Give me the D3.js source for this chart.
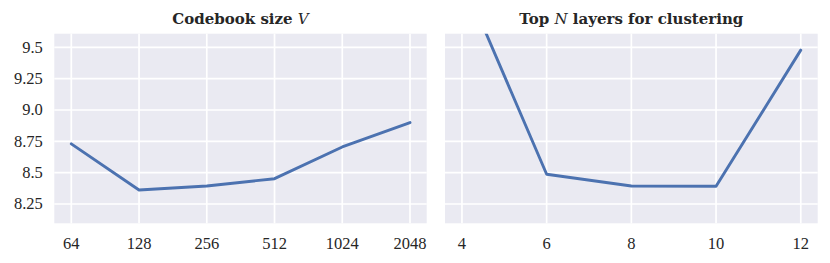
<!DOCTYPE html>
<html><head><meta charset="utf-8">
<script src="https://cdn.jsdelivr.net/npm/d3@7"></script>
<style>body{margin:0;background:#fff}</style>
</head><body>
<svg id="c" width="830" height="263"></svg>
<script>
// Data
const codebookSizes = ["64","128","256","512","1024","2048"];
const codebookValues = [8.73, 8.362, 8.394, 8.452, 8.705, 8.90];
const topLayers = [4, 6, 8, 10, 12];
const topLayerValues = [10.06, 8.487, 8.394, 8.392, 9.478];
const yTicks = [8.25, 8.5, 8.75, 9.0, 9.25, 9.5];
const yTickLabels = ["8.25", "8.5", "8.75", "9.0", "9.25", "9.5"];
const layerTicks = [4, 6, 8, 10, 12];

const svg = d3.select("#c");
const font = "'Liberation Serif', serif";
const titleFont = "'DejaVu Serif', serif";
const plotTop = 33.7, plotBottom = 223.3;
const y = d3.scaleLinear().domain([8.096, 9.609]).range([plotBottom, plotTop]);
const bg = "#EAEAF2", lineColor = "#4C72B0";

function panel(id, x0, x1, xScale, xTickVals, xFmt, xs, ys, showY, titleParts) {
  const g = svg.append("g");
  g.append("rect").attr("x", x0).attr("y", plotTop).attr("width", x1 - x0).attr("height", plotBottom - plotTop).attr("fill", bg);
  g.append("clipPath").attr("id", id).append("rect").attr("x", x0).attr("y", plotTop).attr("width", x1 - x0).attr("height", plotBottom - plotTop);
  // grid
  g.selectAll(".gy").data(yTicks).join("line")
    .attr("x1", x0).attr("x2", x1).attr("y1", d => y(d)).attr("y2", d => y(d))
    .attr("stroke", "#fff").attr("stroke-width", 1.7);
  g.selectAll(".gx").data(xTickVals).join("line")
    .attr("x1", d => xScale(d)).attr("x2", d => xScale(d)).attr("y1", plotTop).attr("y2", plotBottom)
    .attr("stroke", "#fff").attr("stroke-width", 1.7);
  // line
  const line = d3.line().x((d, i) => xScale(xs[i])).y(d => y(d));
  g.append("path").datum(ys).attr("d", line).attr("fill", "none")
    .attr("stroke", lineColor).attr("stroke-width", 2.9).attr("stroke-linecap", "round").attr("stroke-linejoin", "round")
    .attr("clip-path", `url(#${id})`);
  // x tick labels
  g.selectAll(".xt").data(xTickVals).join("text")
    .attr("x", d => xScale(d)).attr("y", 248.5).attr("text-anchor", "middle")
    .attr("font-family", font).attr("font-size", 16.5).attr("fill", "#262626")
    .text(xFmt);
  if (showY) {
    g.selectAll(".yt").data(yTicks).join("text")
      .attr("x", x0 - 11.5).attr("y", d => y(d) + 5.3).attr("text-anchor", "end")
      .attr("font-family", font).attr("font-size", 16.5).attr("fill", "#262626")
      .text((d, i) => yTickLabels[i]);
  }
  const t = g.append("text").attr("x", (x0 + x1) / 2).attr("y", 23.5).attr("text-anchor", "middle")
    .attr("font-family", titleFont).attr("font-size", 15).attr("font-weight", "bold").attr("fill", "#262626");
  titleParts.forEach(p => t.append("tspan").attr("font-style", p[1] ? "italic" : "normal")
    .attr("font-weight", p[1] ? "normal" : "bold").text(p[0]));
}

const xl = d3.scalePoint().domain(codebookSizes).range([71.3, 410]);
panel("clipL", 54.3, 426.7, xl, codebookSizes, d => d, codebookSizes, codebookValues, true,
  [["Codebook size ", false], ["V", true]]);

const xr = d3.scaleLinear().domain([3.6, 12.4]).range([445, 817.7]);
panel("clipR", 445, 817.7, xr, layerTicks, d => String(d), topLayers, topLayerValues, false,
  [["Top ", false], ["N", true], [" layers for clustering", false]]);
</script>
</body></html>
